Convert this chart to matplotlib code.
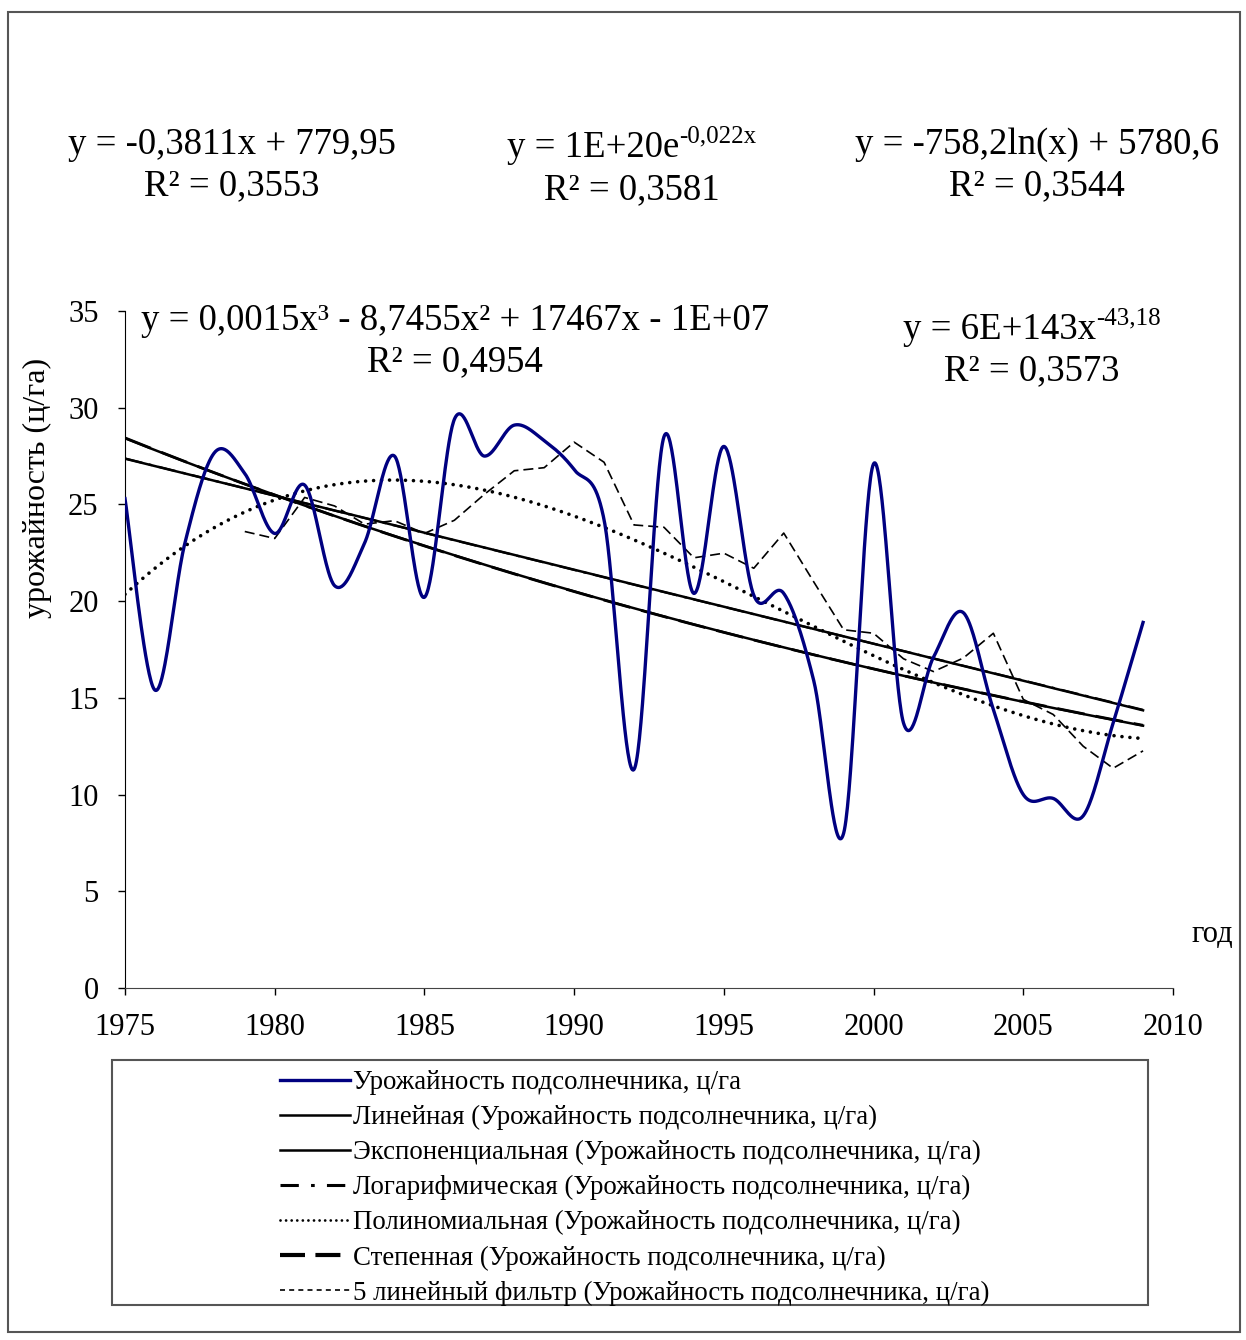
import numpy as np
import pandas as pd
import matplotlib
matplotlib.use("Agg")
import matplotlib.pyplot as plt
from matplotlib.lines import Line2D
from matplotlib.patches import Rectangle

# --- data: sunflower yield, c/ha ---
years = list(range(1975, 2010))
yield_cha = [25.3, 15.4, 23.0, 27.7, 26.6, 23.5, 26.0, 20.8, 23.0, 27.5,
             20.2, 29.4, 27.5, 29.1, 28.3, 26.8, 24.2, 11.3, 28.5, 20.4,
             28.0, 20.3, 20.4, 15.9, 8.0, 27.1, 13.7, 17.1, 19.4, 14.4,
             10.0, 9.8, 8.9, 13.7, 18.9]

series_label = "Урожайность подсолнечника, ц/га"
trend_names = ["Линейная", "Экспоненциальная", "Логарифмическая",
               "Полиномиальная", "Степенная", "5 линейный фильтр"]

plt.rcParams.update({
    "font.family": ["Liberation Serif", "DejaVu Serif"],
    "axes.edgecolor": "black",
    "xtick.color": "black",
    "ytick.color": "black",
})

W, H = 1246, 1340


def smooth_excel(x, y, n=40):
    # bezier smoothing like Excel's "smoothed line" (catmull-rom handles)
    x = np.asarray(x, float)
    y = np.asarray(y, float)
    px = np.concatenate([[x[0]], x, [x[-1]]])
    py = np.concatenate([[y[0]], y, [y[-1]]])
    u = np.linspace(0, 1, n)
    xs, ys = [], []
    for i in range(1, len(px) - 2):
        x0, y0, x3, y3 = px[i], py[i], px[i + 1], py[i + 1]
        x1 = x0 + (px[i + 1] - px[i - 1]) / 6
        y1 = y0 + (py[i + 1] - py[i - 1]) / 6
        x2 = x3 - (px[i + 2] - px[i]) / 6
        y2 = y3 - (py[i + 2] - py[i]) / 6
        b0, b1, b2, b3 = (1 - u) ** 3, 3 * (1 - u) ** 2 * u, 3 * (1 - u) * u ** 2, u ** 3
        xs.extend(b0 * x0 + b1 * x1 + b2 * x2 + b3 * x3)
        ys.extend(b0 * y0 + b1 * y1 + b2 * y2 + b3 * y3)
    return np.array(xs), np.array(ys)


x = np.array(years, float)
y = np.array(yield_cha, float)
xf = np.linspace(x[0], x[-1], 300)

lin = np.polyval(np.polyfit(x, y, 1), xf)
expo = np.exp(np.polyval(np.polyfit(x, np.log(y), 1), xf))
logf = np.polyval(np.polyfit(np.log(x), y, 1), np.log(xf))
xc = x.mean()
poly = np.polyval(np.polyfit(x - xc, y, 3), xf - xc)
powf = np.exp(np.polyval(np.polyfit(np.log(x), np.log(y), 1), np.log(xf)))
mavg = pd.Series(yield_cha, index=years).rolling(5).mean().dropna()

fig = plt.figure(figsize=(W / 100, H / 100), dpi=100)
ax = fig.add_axes([125 / W, 1 - 988 / H, (1173 - 125) / W, (988 - 311) / H])

sx, sy = smooth_excel(x, y)
ax.plot(sx, sy, color="#000080", lw=2.4, zorder=5)
ax.plot(xf, lin, color="black", lw=1.8)
ax.plot(xf, expo, color="black", lw=1.8)
ax.plot(xf, logf, color="black", lw=1.6, ls=(0, (8, 3, 1.5, 3)))
ax.plot(xf, poly, color="black", lw=2.6, ls=(0, (0.01, 2.2)), dash_capstyle="round")
ax.plot(xf, powf, color="black", lw=2.0, ls=(0, (10, 4)))
ax.plot(mavg.index, mavg.values, color="black", lw=1.2, ls=(0, (6, 3)))

ax.set_xlim(1975, 2010)
ax.set_ylim(0, 35)
ax.set_xticks(range(1975, 2011, 5))
ax.set_yticks(range(0, 36, 5))
ax.tick_params(direction="out", length=5, width=1, labelsize=22)
ax.tick_params(axis="y", pad=14)
ax.tick_params(axis="x", pad=13)
for s in ["top", "right"]:
    ax.spines[s].set_visible(False)
ax.spines["bottom"].set_color("#444444")
ax.set_ylabel("урожайность (ц/га)", fontsize=23)
ax.yaxis.set_label_coords(-(125 - 52) / (1173 - 125), (988 - 488) / (988 - 311))

fs = 26.5
renderer = fig.canvas.get_renderer()


def eq(cx, cy, base, sup="", size=fs):
    # centred text line with an optional superscript tail
    t1 = fig.text(0, 0, base, ha="left", va="center", fontsize=size)
    w1 = t1.get_window_extent(renderer).width
    w2 = 0
    t2 = None
    if sup:
        t2 = fig.text(0, 0, sup, ha="left", va="center", fontsize=size * 0.68)
        w2 = t2.get_window_extent(renderer).width
    left = cx - (w1 + w2) / 2
    t1.set_position((left / W, 1 - cy / H))
    if t2 is not None:
        t2.set_position(((left + w1) / W, 1 - (cy - size * 0.42) / H))


eq(232, 145, "y = -0,3811x + 779,95")
eq(232, 186, "R² = 0,3553")
eq(632, 148, "y = 1E+20e", "-0,022x")
eq(632, 190, "R² = 0,3581")
eq(1037, 145, "y = -758,2ln(x) + 5780,6")
eq(1037, 186, "R² = 0,3544")
eq(455, 321, "y = 0,0015x³ - 8,7455x² + 17467x - 1E+07")
eq(455, 362, "R² = 0,4954")
eq(1032, 330, "y = 6E+143x", "-43,18")
eq(1032, 371, "R² = 0,3573")
eq(1212, 935, "год", size=22)

# outer frame and legend frame
fig.patches.append(Rectangle((8 / W, 1 - 1332 / H), (1240 - 8) / W, (1332 - 12) / H,
                             transform=fig.transFigure, fill=False,
                             edgecolor="#555555", lw=1.5))
fig.patches.append(Rectangle((112 / W, 1 - 1305 / H), (1148 - 112) / W, (1305 - 1060) / H,
                             transform=fig.transFigure, fill=False,
                             edgecolor="#555555", lw=1.5))

suffix = " (" + series_label + ")"
handles = [
    Line2D([], [], color="#000080", lw=2.4),
    Line2D([], [], color="black", lw=1.8),
    Line2D([], [], color="black", lw=1.8),
    Line2D([], [], color="black", lw=2.2, ls=(0, (6, 4, 1.2, 4))),
    Line2D([], [], color="black", lw=2.0, ls=(0, (0.01, 2.0)), dash_capstyle="round"),
    Line2D([], [], color="black", lw=3.0, ls=(0, (6, 2.5))),
    Line2D([], [], color="black", lw=1.2, ls=(0, (3, 2.5))),
]
labels = [series_label] + [n + suffix for n in trend_names]
fig.legend(handles, labels, loc="upper left",
           bbox_to_anchor=(280 / W, 1 - 1070 / H), frameon=False,
           fontsize=19.4, handlelength=2.6, handletextpad=0.1,
           labelspacing=0.37, borderpad=0, borderaxespad=0)

fig.savefig("out.png", dpi=100, facecolor="white")
